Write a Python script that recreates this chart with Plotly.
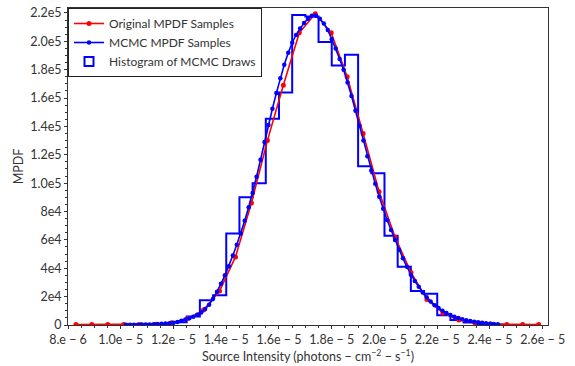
import plotly.graph_objects as go

# ---- data (x in units of 1e-5 photons cm^-2 s^-1, y in units of 1e3) ----
red_x = [0.830, 0.8905, 0.951, 1.0115, 1.072, 1.1325, 1.193, 1.2535, 1.314, 1.3745,
         1.435, 1.4955, 1.556, 1.6165, 1.677, 1.7375, 1.798, 1.8585, 1.919, 1.9795,
         2.040, 2.1005, 2.161, 2.2215, 2.282, 2.3425, 2.403, 2.4635, 2.524, 2.5845]
red_y = [0.3, 0.3, 0.3, 0.3, 0.35, 0.6, 1.5, 4.5, 10.5, 24,
         48, 86, 130, 169, 206, 219.5, 206, 175, 135, 94,
         62, 37, 18, 8.5, 3.5, 1.5, 0.7, 0.4, 0.3, 0.3]

blue_x = [1.020, 1.035, 1.050, 1.065, 1.080, 1.095, 1.110, 1.125, 1.140, 1.155,
          1.170, 1.185, 1.200, 1.215, 1.230, 1.245, 1.260, 1.275, 1.290, 1.305,
          1.320, 1.335, 1.350, 1.365, 1.380, 1.395, 1.410, 1.425, 1.440, 1.455,
          1.470, 1.485, 1.500, 1.515, 1.530, 1.545, 1.560, 1.575, 1.590, 1.605,
          1.620, 1.635, 1.650, 1.665, 1.680, 1.695, 1.710, 1.725, 1.740, 1.755,
          1.770, 1.785, 1.800, 1.815, 1.830, 1.845, 1.860, 1.875, 1.890, 1.905,
          1.920, 1.935, 1.950, 1.965, 1.980, 1.995, 2.010, 2.025, 2.040, 2.055,
          2.070, 2.085, 2.100, 2.115, 2.130, 2.145, 2.160, 2.175, 2.190, 2.205,
          2.220, 2.235, 2.250, 2.265, 2.280, 2.295, 2.310, 2.325, 2.340, 2.355,
          2.370, 2.385, 2.400, 2.415, 2.430]
blue_y = [0.15, 0.18, 0.2, 0.25, 0.29, 0.34, 0.42, 0.55, 0.7, 0.86,
          1.08, 1.32, 1.6, 2.2, 3.0, 3.9, 4.8, 5.9, 7.2, 8.8,
          11.3, 14.3, 18.5, 23.5, 29, 35, 41.5, 49, 56.5, 64.5,
          73.5, 83, 93, 104.5, 116.5, 129, 141, 152.5, 163.5, 174,
          183.5, 192, 199, 204.5, 209, 213, 216, 218, 218, 216,
          212.5, 208, 201.5, 195, 187.5, 180, 171, 161.5, 151, 140.5,
          130, 119, 109, 99.5, 90.5, 82, 74, 67, 60, 53,
          47, 41, 35.5, 31, 27, 23, 19.5, 16.5, 14, 12,
          10, 8.4, 7.0, 5.9, 4.9, 4.0, 3.3, 2.8, 2.3, 1.9,
          1.55, 1.2, 0.95, 0.75, 0.6]

hist_edges = [1.10, 1.15, 1.20, 1.25, 1.30, 1.35, 1.40, 1.45, 1.50, 1.55,
              1.60, 1.65, 1.70, 1.75, 1.80, 1.85, 1.90, 1.95, 2.00, 2.05,
              2.10, 2.15, 2.20, 2.25, 2.30, 2.35, 2.40, 2.45]
hist_vals = [0.3, 0.8, 2.0, 6.0, 17.5, 21, 64.5, 90, 100, 145.5,
             164, 218.5, 217.5, 199.5, 183, 190.5, 112, 107, 63, 41,
             24, 22, 6.8, 3.5, 1.8, 0.7, 0.3]

x_tickvals = [0.8, 1.0, 1.2, 1.4, 1.6, 1.8, 2.0, 2.2, 2.4, 2.6]
x_ticktext = ["8.e \u2212 6", "1.0e \u2212 5", "1.2e \u2212 5", "1.4e \u2212 5", "1.6e \u2212 5",
              "1.8e \u2212 5", "2.0e \u2212 5", "2.2e \u2212 5", "2.4e \u2212 5", "2.6e \u2212 5"]
y_tickvals = [0, 20, 40, 60, 80, 100, 120, 140, 160, 180, 200, 220]
y_ticktext = ["0", "2e4", "4e4", "6e4", "8e4", "1.0e5", "1.2e5", "1.4e5", "1.6e5",
              "1.8e5", "2.0e5", "2.2e5"]

XS = 1e-5
YS = 1e3

RED = "#ff0000"
BLUE = "#0000ff"
TXT = "#333333"
FONT = "Lato"

# step outline of histogram
hx = [hist_edges[0]] + hist_edges[:-1] + [hist_edges[-1]]
hy = [0] + hist_vals + [0]

fig = go.Figure()
fig.add_trace(go.Scatter(
    x=[v * XS for v in hx], y=[v * YS for v in hy], mode="lines",
    line=dict(color=BLUE, width=2, shape="hv"), showlegend=False))
fig.add_trace(go.Scatter(
    x=[v * XS for v in red_x], y=[v * YS for v in red_y], mode="lines+markers",
    name="Original MPDF Samples",
    line=dict(color=RED, width=1.6), marker=dict(color=RED, size=5)))
fig.add_trace(go.Scatter(
    x=[v * XS for v in blue_x], y=[v * YS for v in blue_y], mode="lines+markers",
    name="MCMC MPDF Samples",
    line=dict(color=BLUE, width=1.6), marker=dict(color=BLUE, size=4.5)))
fig.add_trace(go.Scatter(
    x=[None], y=[None], mode="markers", name="Histogram of MCMC Draws",
    marker=dict(symbol="square-open", color=BLUE, size=9, line=dict(width=2, color=BLUE))))

fig.update_layout(
    width=575, height=366,
    margin=dict(l=68, r=27, t=5, b=41),
    plot_bgcolor="white", paper_bgcolor="white",
    font=dict(family=FONT, size=12, color=TXT),
    legend=dict(x=0, y=1, xanchor="left", yanchor="top",
                bgcolor="white", bordercolor="#222222", borderwidth=1,
                font=dict(family=FONT, size=12, color=TXT),
                tracegroupgap=0, itemwidth=30),
)
fig.update_xaxes(
    range=[0.8 * XS, 2.62 * XS],
    tickmode="array", tickvals=[v * XS for v in x_tickvals], ticktext=x_ticktext,
    ticks="outside", ticklen=3, tickcolor="#333333",
    tickfont=dict(family=FONT, size=12.5, color=TXT),
    minor=dict(ticks="outside", ticklen=2, tick0=0.8 * XS, dtick=0.05 * XS, tickcolor="#333333"),
    showline=True, linecolor="#333333", linewidth=1, mirror=True,
    showgrid=False, zeroline=False,
    title=dict(text="Source Intensity (photons \u2212 cm<sup>\u22122</sup> \u2212 s<sup>\u22121</sup>)",
               font=dict(family=FONT, size=12.5, color=TXT), standoff=2),
)
fig.update_yaxes(
    range=[0, 223.5 * YS],
    tickmode="array", tickvals=[v * YS for v in y_tickvals], ticktext=y_ticktext,
    ticks="outside", ticklen=3, tickcolor="#333333",
    tickfont=dict(family=FONT, size=12.5, color=TXT),
    minor=dict(ticks="outside", ticklen=2, tick0=0, dtick=5 * YS, tickcolor="#333333"),
    showline=True, linecolor="#333333", linewidth=1, mirror=True,
    showgrid=False, zeroline=False,
    title=dict(text="MPDF", font=dict(family=FONT, size=12.5, color=TXT), standoff=3),
)

fig.write_html("out.html", config={"displayModeBar": False},
               post_script="document.body.style.margin='0';document.body.style.padding='0';")
